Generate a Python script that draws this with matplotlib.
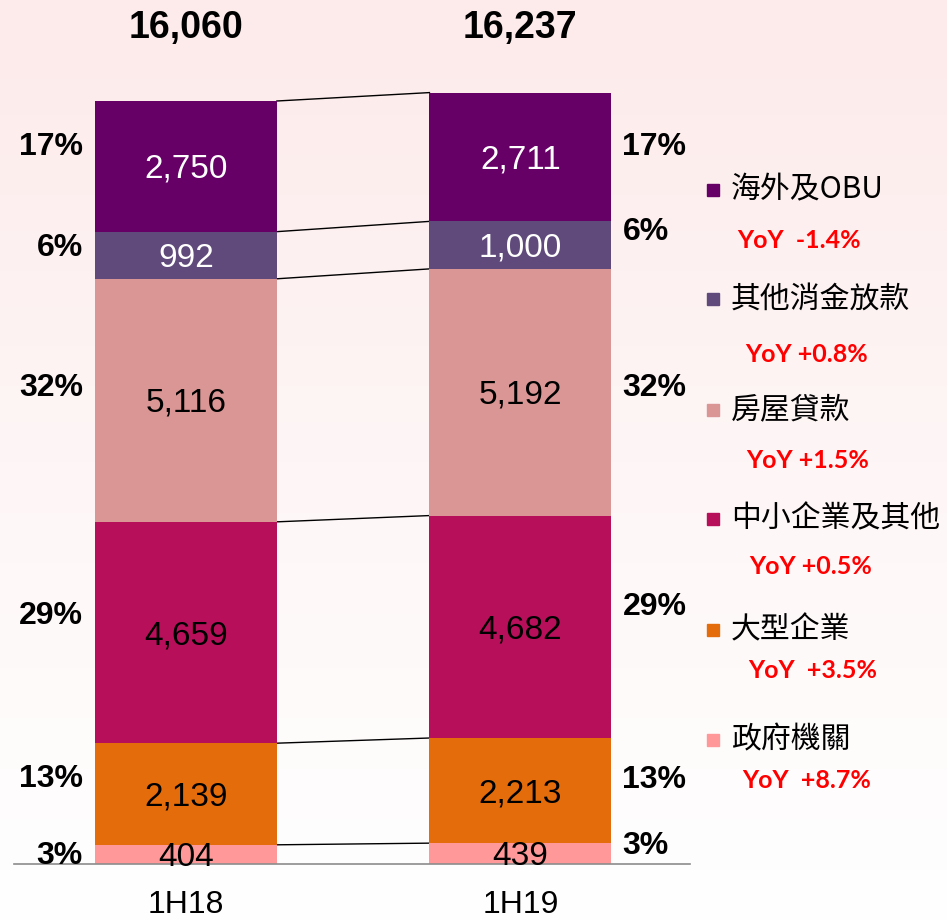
import numpy as np
import matplotlib
matplotlib.use("Agg")
import matplotlib.pyplot as plt
from matplotlib.colors import LinearSegmentedColormap

periods = ["1H18", "1H19"]
segments = ["政府機關", "大型企業", "中小企業及其他", "房屋貸款", "其他消金放款", "海外及OBU"]
val_1h18 = [404, 2139, 4659, 5116, 992, 2750]
val_1h19 = [439, 2213, 4682, 5192, 1000, 2711]
totals = [16060, 16237]
pct_1h18 = ["3%", "13%", "29%", "32%", "6%", "17%"]
pct_1h19 = ["3%", "13%", "29%", "32%", "6%", "17%"]
yoy = ["YoY  +8.7%", "YoY  +3.5%", "YoY +0.5%", "YoY +1.5%", "YoY +0.8%", "YoY  -1.4%"]

colors = ["#ff9999", "#e46c0a", "#b80f5a", "#d99694", "#604a7b", "#660066"]
txt_colors = ["black", "black", "black", "black", "white", "white"]

W, H = 947, 924
fig = plt.figure(figsize=(W / 100, H / 100), dpi=100)

# background gradient
bg = fig.add_axes([0, 0, 1, 1])
grad = np.linspace(0, 1, 256).reshape(-1, 1)
cmap = LinearSegmentedColormap.from_list("bg", ["#fdeaea", "#fef6f6", "#ffffff"])
bg.imshow(grad, aspect="auto", cmap=cmap, extent=[0, 1, 0, 1])
bg.set_axis_off()

narrow = ["Liberation Sans Narrow", "Liberation Sans", "DejaVu Sans"]
cjk = ["Noto Sans CJK TC", "DejaVu Sans"]

ax_l, ax_r = 14, 690
ax_b, ax_t = 864, 9
ax = fig.add_axes([ax_l / W, 1 - ax_b / H, (ax_r - ax_l) / W, (ax_b - ax_t) / H])
ax.patch.set_alpha(0)
px_per_unit = 763 / 16060
ax.set_ylim(0, (ax_b - ax_t) / px_per_unit)
ax.set_xlim(-0.514, 1.507)
for s in ["top", "right", "left"]:
    ax.spines[s].set_visible(False)
ax.spines["bottom"].set_color("#8c8c8c")
ax.spines["bottom"].set_linewidth(1.2)
ax.set_yticks([])
ax.set_xticks([0, 1])
ax.set_xticklabels(periods, fontsize=23, family=narrow)
ax.tick_params(axis="x", length=0, pad=19)

xs = [0, 1]
bw = 0.544
data = [val_1h18, val_1h19]
total_y = (ax_b - 28) / px_per_unit
for i, vals in enumerate(data):
    bottom = 0
    for j, v in enumerate(vals):
        ax.bar(xs[i], v, bw, bottom=bottom, color=colors[j], edgecolor="none", zorder=2)
        ax.text(xs[i], bottom + v / 2 - 3 / px_per_unit, f"{v:,}", ha="center", va="center",
                fontsize=24, family=narrow, color=txt_colors[j], zorder=3)
        bottom += v
    ax.text(xs[i], total_y, f"{totals[i]:,}", ha="center", va="center",
            fontsize=27, fontweight="bold", family=["Liberation Sans", "DejaVu Sans"])

# connector lines between bars
cum_l = np.cumsum(val_1h18)
cum_r = np.cumsum(val_1h19)
for a, b in zip(np.r_[val_1h18[0], cum_l[1:]], np.r_[val_1h19[0], cum_r[1:]]):
    ax.plot([xs[0] + bw / 2, xs[1] - bw / 2], [a, b], color="black", lw=1.0, zorder=1)

# percentage labels (offsets in px relative to segment middle, upward)
off_l = [-2, 15, 17, 12, 7, 19]
off_r = [8, 11, 20, 4, 13, 10]
mid_l = cum_l - np.array(val_1h18) / 2
mid_r = cum_r - np.array(val_1h19) / 2
for j in range(len(segments)):
    ax.text(-0.308, mid_l[j] + off_l[j] / px_per_unit, pct_1h18[j], ha="right", va="center",
            fontsize=23, fontweight="bold", family=narrow)
    ax.text(1.305, mid_r[j] + off_r[j] / px_per_unit, pct_1h19[j], ha="left", va="center",
            fontsize=23, fontweight="bold", family=narrow)

# legend with YoY
leg_y = [740, 630, 519, 410, 299, 190]
yoy_y = [780, 670, 567, 460, 354, 240]
yoy_x = [742, 748, 749, 746, 745, 737]
for j in range(len(segments)):
    fig.patches.append(plt.Rectangle((707 / W, 1 - (leg_y[j] + 6) / H), 12 / W, 12 / H,
                                     transform=fig.transFigure, color=colors[j]))
    fig.text(731 / W, 1 - leg_y[j] / H, segments[j], ha="left", va="center",
             fontsize=21.5, family=cjk)
    fig.text(yoy_x[j] / W, 1 - yoy_y[j] / H, yoy[j], ha="left", va="center",
             fontsize=18, fontweight="bold", color="#ff0000", family=["Lato", "DejaVu Sans"])

fig.savefig("out.png", dpi=100)
